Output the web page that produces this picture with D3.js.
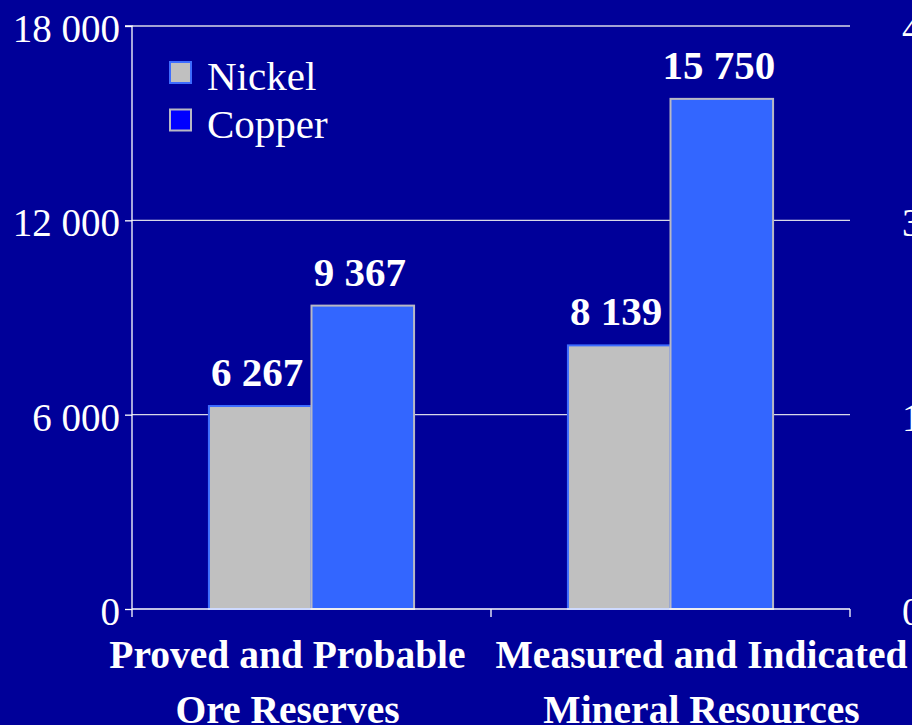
<!DOCTYPE html>
<html><head><meta charset="utf-8">
<script src="https://cdn.jsdelivr.net/npm/d3@7"></script>
<style>
html,body{margin:0;padding:0;background:#000099;overflow:hidden;}
svg{display:block;}
text{font-family:"Liberation Serif","Times New Roman",serif;fill:#fff;}
</style></head>
<body>
<svg id="c" width="912" height="725"></svg>
<script>
const categories = [["Proved and Probable","Ore Reserves"],["Measured and Indicated","Mineral Resources"]];
const series = ["Nickel","Copper"];
const nickel = [6267, 8139];
const copper = [9367, 15750];
const leftTicks = [0, 6000, 12000, 18000];
const rightTicks = [0, 1500, 3000, 4500];

const W = 912, H = 725;
const m = {l:132, r:850, t:26, b:609};
const svg = d3.select("#c");
svg.append("rect").attr("width",W).attr("height",H).attr("fill","#000099");

const fmt = v => d3.format(",")(v).replace(/,/g," ");
const catKeys = categories.map(c=>c.join(" "));
const x0 = d3.scaleBand().domain(catKeys).range([m.l,m.r]).padding(0);
const x1 = d3.scaleBand().domain(series).range([0,x0.bandwidth()]).paddingInner(0).paddingOuter(0.75);
const y = d3.scaleLinear().domain([0,18000]).range([m.b,m.t]);
const y2 = d3.scaleLinear().domain([0,4500]).range([m.b,m.t]);

// gridlines
svg.append("g").selectAll("line").data(leftTicks.filter(d=>d>0)).join("line")
  .attr("x1",m.l).attr("x2",m.r).attr("y1",d=>y(d)).attr("y2",d=>y(d))
  .attr("stroke","#d8d8e8").attr("stroke-width",1.3);

// left axis
const ya = svg.append("g").attr("transform",`translate(${m.l},0)`)
  .call(d3.axisLeft(y).tickValues(leftTicks).tickSize(7).tickPadding(5).tickFormat(fmt));
ya.selectAll("path,line").attr("stroke","#fff").attr("stroke-width",1.3);
ya.selectAll("text").attr("font-size",39).attr("fill","#fff").attr("dy","0.4em")
  .style("font-family","'Liberation Serif',serif");
ya.select(".domain").attr("d",`M-7,${m.t}H0V${m.b}`);

// right axis (labels clipped by the frame)
const ra = svg.append("g").attr("transform",`translate(${m.r},0)`)
  .call(d3.axisRight(y2).tickValues(rightTicks).tickSize(0).tickPadding(52).tickFormat(fmt));
ra.select(".domain").remove();
ra.selectAll("text").attr("font-size",39).attr("fill","#fff").attr("dy","0.4em")
  .style("font-family","'Liberation Serif',serif");

// bars
const data = catKeys.map((k,i)=>({k, vals:[{s:"Nickel",v:nickel[i]},{s:"Copper",v:copper[i]}]}));
const fill = {Nickel:"#c0c0c0", Copper:"#3366ff"};
const stroke = {Nickel:"#3d6cff", Copper:"#b8b8c4"};
const g = svg.append("g").selectAll("g").data(data).join("g")
  .attr("transform",d=>`translate(${x0(d.k)},0)`);
g.selectAll("rect").data(d=>d.vals).join("rect")
  .attr("x",d=>x1(d.s)).attr("width",x1.bandwidth())
  .attr("y",d=>y(d.v)).attr("height",d=>y(0)-y(d.v))
  .attr("fill",d=>fill[d.s]).attr("stroke",d=>stroke[d.s]).attr("stroke-width",2);
g.selectAll("text").data(d=>d.vals).join("text")
  .attr("x",d=>x1(d.s)+x1.bandwidth()/2-3).attr("y",d=>y(d.v)-20)
  .attr("text-anchor","middle").attr("font-size",41).attr("font-weight","bold")
  .text(d=>fmt(d.v));

// x axis
const xa = svg.append("g").attr("transform",`translate(0,${m.b})`);
xa.append("line").attr("x1",m.l).attr("x2",m.r).attr("stroke","#fff").attr("stroke-width",1.5);
const bounds = [m.l, ...catKeys.map(k=>x0(k)+x0.bandwidth())];
xa.selectAll("line.t").data(bounds).join("line").attr("class","t")
  .attr("x1",d=>d).attr("x2",d=>d).attr("y1",0).attr("y2",8)
  .attr("stroke","#fff").attr("stroke-width",1.3);
const shift = [-24, 31];
const cl = xa.selectAll("text.cat").data(categories).join("text").attr("class","cat")
  .attr("text-anchor","middle").attr("font-size",39.5).attr("font-weight","bold")
  .attr("transform",(d,i)=>`translate(${x0(catKeys[i])+x0.bandwidth()/2+shift[i]},0)`);
cl.selectAll("tspan").data(d=>d).join("tspan").attr("x",0)
  .attr("y",(d,i)=>59+i*55).text(d=>d);

// legend
const lg = svg.append("g").attr("transform","translate(169,61)");
const lfill = {Nickel:"#c0c0c0", Copper:"#0000ff"};
const li = lg.selectAll("g").data(series).join("g").attr("transform",(d,i)=>`translate(0,${i*47.5})`);
li.append("rect").attr("x",1).attr("y",1).attr("width",21).attr("height",21)
  .attr("fill",d=>lfill[d]).attr("stroke",d=>stroke[d]).attr("stroke-width",2);
li.append("text").attr("x",38).attr("y",29).attr("font-size",41).text(d=>d);
</script>
</body></html>
